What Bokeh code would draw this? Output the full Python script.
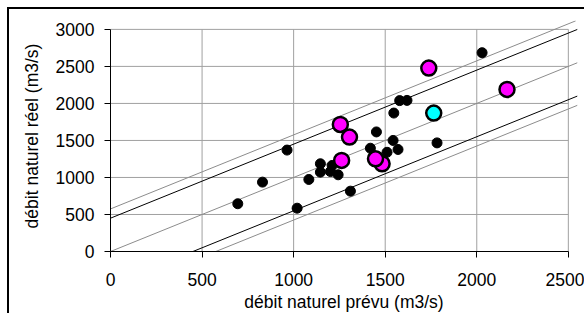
from bokeh.plotting import figure
from bokeh.models import Range1d, FixedTicker
from bokeh.embed import file_html
from bokeh.resources import INLINE

# axis ticks
x_ticks = [0, 500, 1000, 1500, 2000, 2500]
y_ticks = [0, 500, 1000, 1500, 2000, 2500, 3000]

# observations (débit naturel prévu, débit naturel réel)
black_x = [695, 830, 964, 1019, 1083, 1146, 1146, 1210, 1201, 1243, 1310,
           1419, 1452, 1510, 1543, 1570, 1547, 1579, 1619, 1783, 2029]
black_y = [645, 937, 1370, 585, 973, 1185, 1072, 1162, 1080, 1036, 815,
           1395, 1615, 1340, 1500, 1378, 1870, 2038, 2041, 1467, 2685]

magenta_x = [1255, 1305, 1262, 1483, 1447, 1738, 2165]
magenta_y = [1716, 1545, 1230, 1185, 1252, 2477, 2189]

cyan_x = [1765]
cyan_y = [1869]

# reference lines (end points)
upper_gray_x = [0, 2540]
upper_gray_y = [575, 3115]
upper_black_x = [0, 2550]
upper_black_y = [450, 3000]
diag_x = [0, 2550]
diag_y = [0, 2550]
lower_black_x = [320, 2550]
lower_black_y = [-130, 2100]
lower_gray_x = [500, 2550]
lower_gray_y = [-75, 1975]

FONT = "Liberation Sans"
FS = "17.5px"

p = figure(width=577, height=306, output_backend="svg", toolbar_location=None,
           x_range=Range1d(0, 2550), y_range=Range1d(0, 3120),
           min_border_left=101, min_border_right=9, min_border_top=11,
           min_border_bottom=64)
p.outline_line_color = None
p.grid.visible = False
p.background_fill_color = "white"
p.border_fill_color = "white"
p.styles = {"border-top": "2px solid black", "border-left": "2px solid black",
            "margin-left": "7px", "margin-top": "7px"}

# gridlines
grid_color = "#a0a0a0"
p.segment(x0=x_ticks, y0=[y_ticks[0]] * len(x_ticks), x1=x_ticks,
          y1=[y_ticks[-1]] * len(x_ticks), line_color=grid_color, line_width=1)
p.segment(x0=[x_ticks[0]] * len(y_ticks), y0=y_ticks,
          x1=[x_ticks[-1]] * len(y_ticks), y1=y_ticks,
          line_color=grid_color, line_width=1)

# reference lines
gray_line = "#8c8c8c"
p.line(upper_gray_x, upper_gray_y, line_color=gray_line, line_width=1)
p.line(diag_x, diag_y, line_color=gray_line, line_width=1)
p.line(lower_gray_x, lower_gray_y, line_color=gray_line, line_width=1)
p.line(upper_black_x, upper_black_y, line_color="black", line_width=1)
p.line(lower_black_x, lower_black_y, line_color="black", line_width=1)

# points
p.scatter(black_x, black_y, size=10, fill_color="black", line_color="black")
p.scatter(magenta_x, magenta_y, size=15, fill_color="#ff00ff",
          line_color="black", line_width=2.5)
p.scatter(cyan_x, cyan_y, size=15, fill_color="#00ffff",
          line_color="black", line_width=2.5)

# axes
for ax, ticks, bnds in ((p.xaxis, x_ticks, (0, 2500)), (p.yaxis, y_ticks, (0, 3000))):
    ax.ticker = FixedTicker(ticks=ticks)
    ax.bounds = bnds
    ax.minor_tick_line_color = None
    ax.major_tick_in = 0
    ax.major_tick_out = 6
    ax.axis_line_color = "black"
    ax.major_tick_line_color = "black"
    ax.major_label_text_font = FONT
    ax.major_label_text_font_size = FS
    ax.major_label_text_color = "black"
    ax.axis_label_text_font = FONT
    ax.axis_label_text_font_size = FS
    ax.axis_label_text_font_style = "normal"
    ax.axis_label_text_color = "black"

p.xaxis.axis_label = "débit naturel prévu (m3/s)"
p.yaxis.axis_label = "débit naturel réel (m3/s)"
p.xaxis.major_label_standoff = 15
p.yaxis.major_label_standoff = 10
p.xaxis.axis_label_standoff = 3
p.yaxis.axis_label_standoff = 11

open("out.html", "w").write(file_html(p, INLINE))
